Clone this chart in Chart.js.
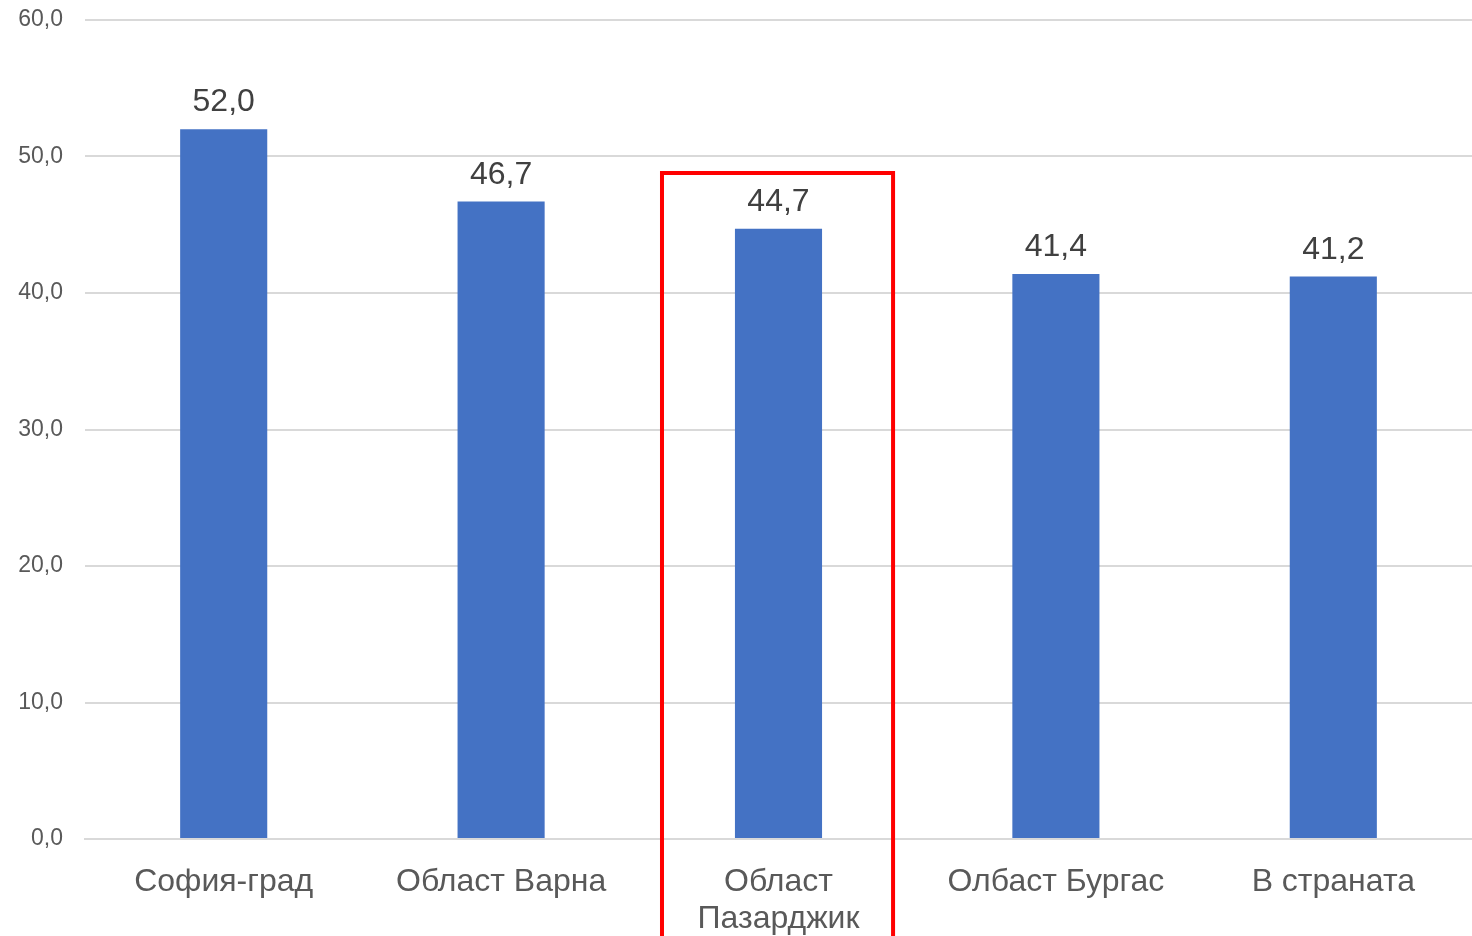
<!DOCTYPE html>
<html>
<head>
<meta charset="utf-8">
<script src="https://cdn.jsdelivr.net/npm/chart.js@4"></script>
<style>
  html, body { margin: 0; padding: 0; background: #fff; }
  #wrap { width: 1472px; height: 936px; }
</style>
</head>
<body>
<div id="wrap"><canvas id="chart"></canvas></div>
<script>
var categories = ["София-град", "Област Варна", ["Област", "Пазарджик"], "Олбаст Бургас", "В страната"];
var values = [52.0, 46.7, 44.7, 41.4, 41.2];
var yTicks = [0, 10, 20, 30, 40, 50, 60];

// highlighted category (red frame)
var highlightIndex = 2;
var highlightTop = 48.8;

function fmt(v) {
    return v.toFixed(1).replace('.', ',');
}

var valueLabels = {
    id: 'valueLabels',
    afterDatasetsDraw: function(chart) {
        var ctx = chart.ctx;
        var meta = chart.getDatasetMeta(0);
        ctx.save();
        ctx.font = '32px "Liberation Sans", Arial, sans-serif';
        ctx.fillStyle = '#404040';
        ctx.textAlign = 'center';
        ctx.textBaseline = 'alphabetic';
        meta.data.forEach(function(bar, i) {
            ctx.fillText(fmt(values[i]), bar.x, bar.y - 18);
        });
        ctx.restore();
    }
};

var highlightBox = {
    id: 'highlightBox',
    afterDraw: function(chart) {
        var ctx = chart.ctx;
        var xs = chart.scales.x, ys = chart.scales.y;
        var cw = xs.width / categories.length;
        var cx = xs.getPixelForValue(highlightIndex);
        var left = cx - cw * 0.42;
        var right = cx + cw * 0.413;
        var top = ys.getPixelForValue(highlightTop);
        ctx.save();
        ctx.strokeStyle = '#ff0000';
        ctx.lineWidth = 4;
        ctx.beginPath();
        ctx.moveTo(left, chart.height + 10);
        ctx.lineTo(left, top);
        ctx.lineTo(right, top);
        ctx.lineTo(right, chart.height + 10);
        ctx.stroke();
        ctx.restore();
    }
};

new Chart(document.getElementById('chart'), {
    type: 'bar',
    data: {
        labels: categories,
        datasets: [{
            data: values,
            backgroundColor: '#4472c4',
            borderWidth: 0,
            categoryPercentage: 1.0,
            barPercentage: 0.314
        }]
    },
    options: {
        responsive: true,
        maintainAspectRatio: false,
        animation: false,
        layout: { padding: { top: 20, right: 0, left: 0, bottom: 0 } },
        plugins: {
            legend: { display: false },
            tooltip: { enabled: false }
        },
        scales: {
            x: {
                grid: { display: false, drawTicks: false },
                border: { display: true, color: '#d9d9d9', width: 2 },
                ticks: {
                    color: '#595959',
                    font: { family: '"Liberation Sans", Arial, sans-serif', size: 32, lineHeight: 1.15 },
                    padding: 25,
                    maxRotation: 0,
                    autoSkip: false
                },
                afterFit: function(scale) {
                    scale.height = 97;
                    scale.paddingLeft = 0;
                    scale.paddingRight = 0;
                }
            },
            y: {
                min: 0,
                max: 60,
                afterBuildTicks: function(scale) {
                    scale.ticks = yTicks.map(function(v) { return { value: v }; });
                },
                grid: { color: '#d9d9d9', lineWidth: 2, drawTicks: false },
                border: { display: false },
                ticks: {
                    color: '#595959',
                    font: { family: '"Liberation Sans", Arial, sans-serif', size: 23 },
                    padding: 22,
                    callback: function(v) { return fmt(v); }
                },
                afterFit: function(scale) {
                    scale.width = 85;
                    scale.paddingTop = 0;
                    scale.paddingBottom = 0;
                }
            }
        }
    },
    plugins: [valueLabels, highlightBox]
});
</script>
</body>
</html>
